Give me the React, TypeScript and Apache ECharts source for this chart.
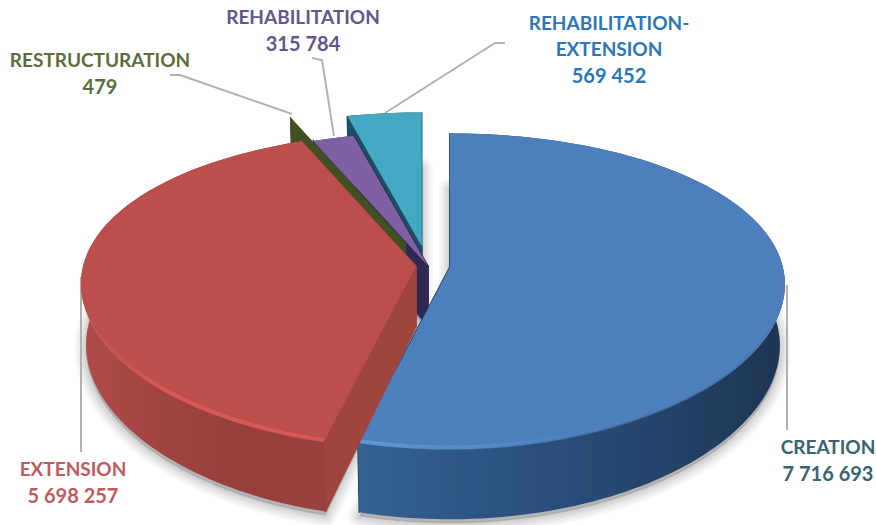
import React, { useEffect, useRef } from "react";
import * as echarts from "echarts";

const categories = ["CREATION", "EXTENSION", "RESTRUCTURATION", "REHABILITATION", "REHABILITATION-EXTENSION"];
const values = [7716693, 5698257, 479, 315784, 569452];
const labelLines = [["CREATION"], ["EXTENSION"], ["RESTRUCTURATION"], ["REHABILITATION"], ["REHABILITATION-", "EXTENSION"]];
const explode = [22, 12, 60, 0, 50];
const paintOrder = [4, 3, 2, 0, 1];
const topColors = ["#4d7fbc", "#bc4e4b", "#4f6228", "#8060a4", "#45a8c3"];
const faceColors = ["#1f3553", "#a0443f", "#3f5021", "#2e2852", "#1d4d63"];
const labelColors = ["#3a6270", "#bf5a5e", "#5b6d3c", "#65558a", "#2a76b9"];
const wallStops = [
  ["#35628f", "#2c5280", "#24466e", "#1e3553"],
  ["#b04c49", "#a04441", "#963f3d", "#9a403c"],
  ["#3f5021", "#3f5021", "#3f5021", "#3f5021"],
  ["#4d3b66", "#4d3b66", "#4d3b66", "#4d3b66"],
  ["#1d4d63", "#1d4d63", "#1d4d63", "#1d4d63"],
];
const blendStops = [
  ["rgba(53,98,143,0.4)", "rgba(44,82,128,0.4)", "rgba(36,70,110,0.4)", "rgba(30,53,83,0)"],
  ["rgba(176,76,73,0)", "rgba(160,68,65,0.4)", "rgba(150,63,61,0.4)", "rgba(154,64,60,0.4)"],
  ["#3f5021", "#3f5021", "#3f5021", "#3f5021"],
  ["#4d3b66", "#4d3b66", "#4d3b66", "#4d3b66"],
  ["#1d4d63", "#1d4d63", "#1d4d63", "#1d4d63"],
];
const rimStops = [
  ["rgba(96,156,221,0.9)", "rgba(88,146,212,0.6)", "rgba(80,132,196,0.1)", "rgba(79,129,189,0)"],
  ["rgba(216,86,83,0)", "rgba(220,90,87,0.9)", "rgba(220,90,87,0.9)", "rgba(217,88,85,0.9)"],
  ["#4f6228", "#4f6228", "#4f6228", "#4f6228"],
  ["#8060a4", "#8060a4", "#8060a4", "#8060a4"],
  ["#45a8c3", "#45a8c3", "#45a8c3", "#45a8c3"],
];

const CX = 428;
const CY = 266;
const R = 333;
const RT = 154;
const PERSP = 6.6;
const PERSP_X = 9;
const EXPLODE_T = 0.4;
const DEPTH = 60;
const SHRINK = 0.985;

const total = values.reduce((a, b) => a + b, 0);
const rad = (d: number) => (d * Math.PI) / 180;

const slices = (() => {
  let acc = 0;
  return values.map((v, i) => {
    const start = (acc / total) * 360;
    acc += v;
    const end = (acc / total) * 360;
    const mid = (start + end) / 2;
    const ax = CX + explode[i] * Math.sin(rad(mid));
    const ay = CY - explode[i] * Math.cos(rad(mid)) * EXPLODE_T;
    return { start, end, ax, ay };
  });
})();

function rimPoint(s: any, deg: number, down: boolean): number[] {
  const X = Math.sin(rad(deg));
  const Y = Math.cos(rad(deg));
  const k = PERSP / (PERSP + Y);
  const kx = PERSP_X / (PERSP_X + Y);
  const dx = R * X * kx;
  const dy = -RT * Y * k;
  return down ? [s.ax + dx * SHRINK, s.ay + dy + DEPTH * k] : [s.ax + dx, s.ay + dy];
}

function arc(s: any, down: boolean, from = s.start, to = s.end): number[][] {
  const n = Math.max(2, Math.ceil((to - from) / 1.5));
  const out: number[][] = [];
  for (let j = 0; j <= n; j++) out.push(rimPoint(s, from + ((to - from) * j) / n, down));
  return out;
}

function linear(x0: number, x1: number, stops: string[]) {
  return {
    type: "linear",
    x: x0,
    y: 0,
    x2: x1,
    y2: 0,
    global: true,
    colorStops: stops.map((color, k) => ({ offset: k / (stops.length - 1), color })),
  };
}

const SHADOW_LAYERS = [22, 17, 12, 8, 4];

function renderShadow(_: any, api: any) {
  const s = slices[api.value(0)];
  const points = [[s.ax, s.ay + DEPTH], ...arc(s, true)].map((p) => [p[0], p[1] + 4]);
  return {
    type: "group",
    children: SHADOW_LAYERS.map((w) => ({
      type: "polygon",
      shape: { points },
      style: { fill: "#000", stroke: "#000", lineWidth: w, lineJoin: "round", opacity: 0.035 },
    })),
  };
}

function frontRange(s: any): number[] | null {
  // the part of the rim that lies on the viewer's side of the disc
  const from = Math.max(s.start, 108);
  const to = Math.min(s.end, 252);
  return to > from ? [from, to] : null;
}

function renderSlice(_: any, api: any) {
  const i = api.value(0);
  const s = slices[i];
  const apexTop = [s.ax, s.ay];
  const apexBottom = [s.ax, s.ay + DEPTH];
  const face = (deg: number) => ({
    type: "polygon",
    shape: { points: [apexTop, rimPoint(s, deg, false), rimPoint(s, deg, true), apexBottom] },
    style: { fill: faceColors[i], stroke: faceColors[i], lineWidth: 1.5 },
  });
  const top = arc(s, false);
  const bottom = arc(s, true);
  const xs = top.map((p) => p[0]);
  const x0 = Math.min(...xs);
  const x1 = Math.max(...xs);
  const children: any[] = [
    face(s.start),
    face(s.end),
    {
      type: "polygon",
      shape: { points: [...top, ...bottom.slice().reverse()] },
      style: { fill: linear(x0, x1, wallStops[i]) },
    },
    { type: "polygon", shape: { points: [apexTop, ...top] }, style: { fill: topColors[i] } },
  ];
  const range = frontRange(s);
  if (range && x1 - x0 > 100) {
    const rim = arc(s, false, range[0], range[1]);
    children.push(
      {
        type: "polyline",
        shape: { points: rim.map((p) => [p[0], p[1] + 3]) },
        style: { fill: "none", stroke: linear(x0, x1, blendStops[i]), lineWidth: 8 },
      },
      {
        type: "polyline",
        shape: { points: rim.map((p) => [p[0], p[1] - 1]) },
        style: { fill: "none", stroke: linear(x0, x1, rimStops[i]), lineWidth: 4 },
      },
    );
  }
  return { type: "group", children };
}

const fmt = (v: number) => String(v).replace(/\B(?=(\d{3})+$)/g, " ");

const labelBoxes = [
  { x: 828, y: 446 },
  { x: 73, y: 468 },
  { x: 100, y: 59 },
  { x: 303, y: 16 },
  { x: 609, y: 22 },
];
const LINE = 26.5;

const leaders = [
  [[787, 285], [787, 430]],
  [[81, 277], [81, 452]],
  [[170, 75], [180, 75], [292, 114]],
  [[312, 58], [322, 60], [334, 136]],
  [[505, 43], [495, 43], [385, 113]],
];

export default function App() {
  const ref = useRef<HTMLDivElement>(null);
  useEffect(() => {
    const chart = echarts.init(ref.current!, undefined, { renderer: "svg" });
    const data = paintOrder.map((i) => [i, values[i]]);
    chart.setOption({
      animation: false,
      backgroundColor: "#ffffff",
      series: [
        { type: "custom", coordinateSystem: "none", silent: true, z: 1, data, renderItem: renderShadow },
        { type: "custom", coordinateSystem: "none", silent: true, z: 3, data, renderItem: renderSlice },
      ],
      graphic: [
        ...leaders.map((points) => ({
          type: "polyline",
          z: 2,
          shape: { points },
          style: { fill: "none", stroke: "#b2b2b2", lineWidth: 2 },
        })),
        ...categories.flatMap((_, i) => {
          const lines = labelLines[i];
          return [...lines, fmt(values[i])].map((text, k) => ({
            type: "text",
            z: 5,
            x: labelBoxes[i].x,
            y: labelBoxes[i].y + k * LINE,
            style: {
              text,
              fill: labelColors[i],
              font: k === lines.length ? "bold 20px Lato" : "bold 19px Lato",
              align: "center",
              verticalAlign: "middle",
            },
          }));
        }),
      ],
    });
    return () => chart.dispose();
  }, []);
  return <div ref={ref} style={{ position: "absolute", left: 0, top: 0, width: 876, height: 525 }} />;
}
